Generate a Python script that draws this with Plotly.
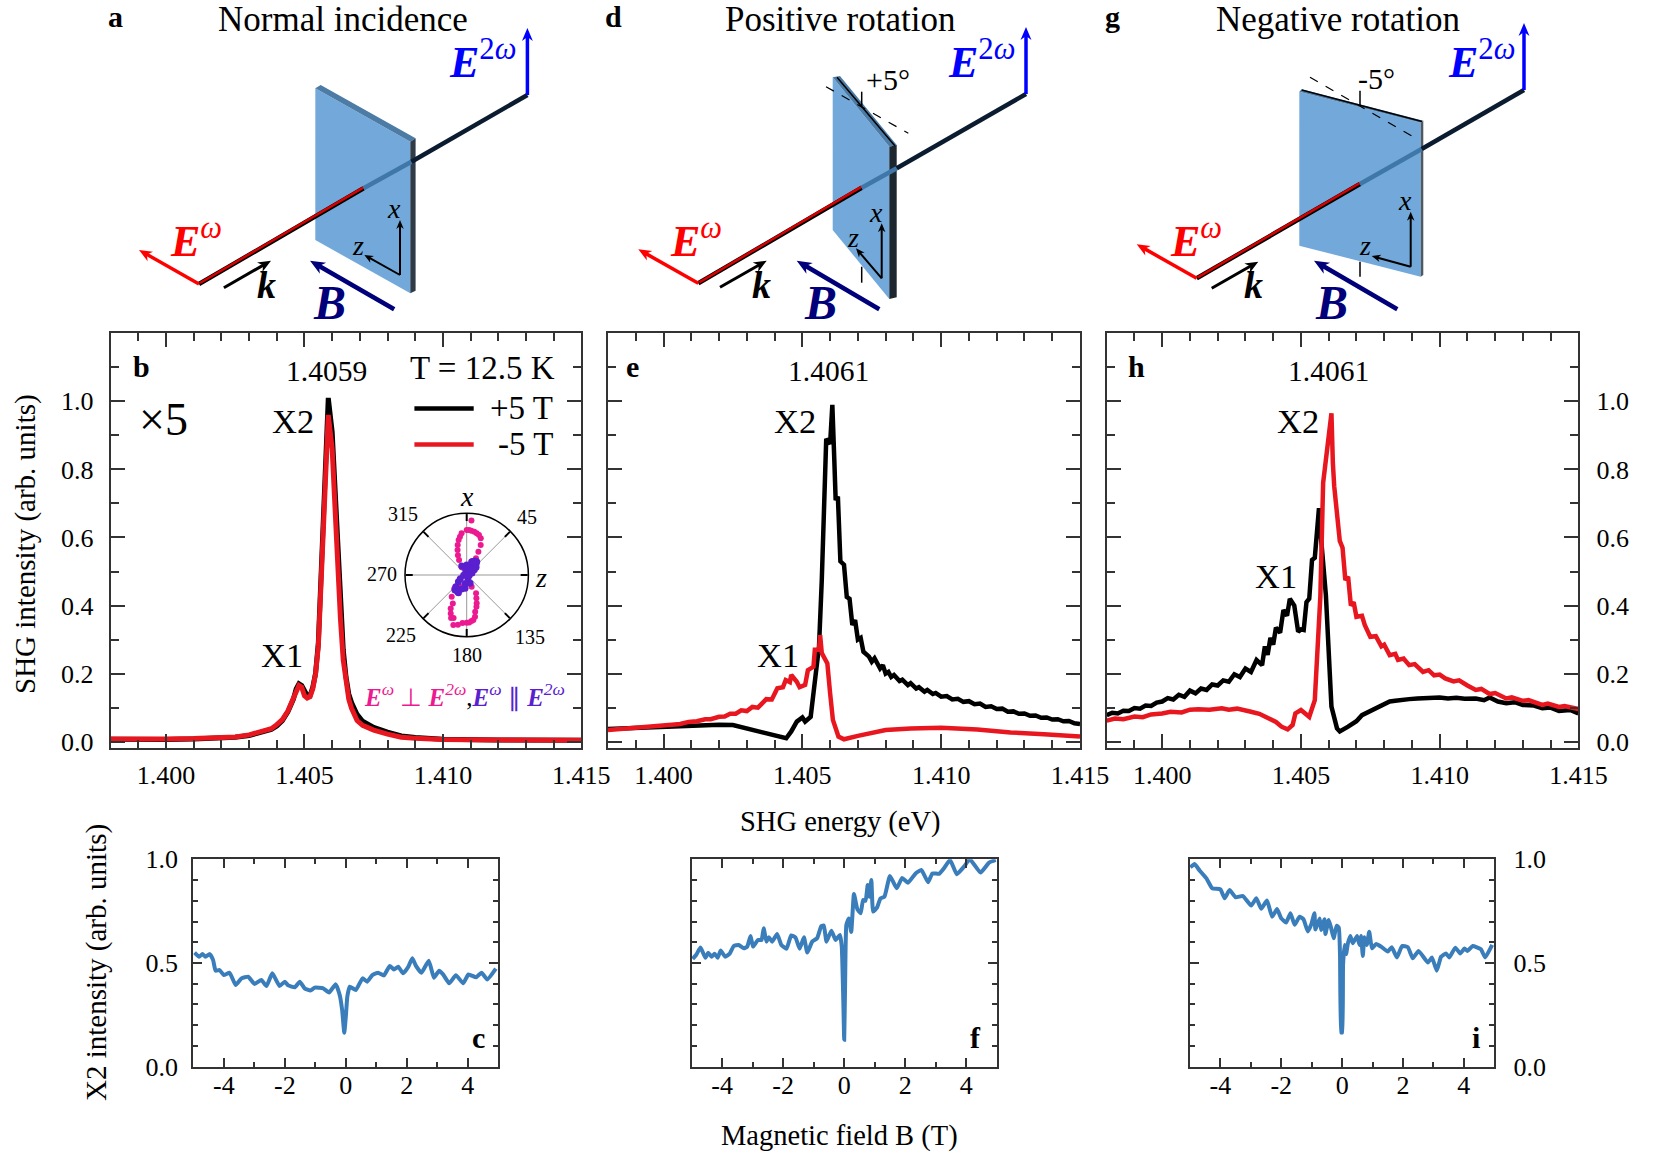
import math
import plotly.graph_objects as go

W = 1661
H = 1152
SERIF = "Liberation Serif"
FRAME = "#333333"
BLACK = "#000000"
RED = "#e8171f"
LINE_BLUE = "#3a7dbb"
PINK = "#ec1a90"
PURPLE = "#5a20cf"

# panel b
E_B = [1.398, 1.399, 1.400, 1.401, 1.402, 1.4025, 1.403, 1.4035, 1.4038, 1.404, 1.4042, 1.4044, 1.4046, 1.4047,
       1.4048, 1.4049, 1.405, 1.4051, 1.4052, 1.4053, 1.4054, 1.4055, 1.4056, 1.4057, 1.40578, 1.40586, 1.406,
       1.4061, 1.4062, 1.4063, 1.4064, 1.4065, 1.4066, 1.4067, 1.4069, 1.4071, 1.4075, 1.408, 1.4085, 1.409,
       1.41, 1.412, 1.415]
B_PLUS = [0.007, 0.006, 0.006, 0.008, 0.011, 0.013, 0.018, 0.029, 0.036, 0.046, 0.062, 0.088, 0.125, 0.155,
          0.17, 0.165, 0.148, 0.135, 0.135, 0.16, 0.2, 0.29, 0.49, 0.72, 0.88, 1.01, 0.91, 0.74, 0.55, 0.39,
          0.27, 0.19, 0.14, 0.115, 0.08, 0.06, 0.042, 0.028, 0.017, 0.012, 0.007, 0.005, 0.004]
B_MINUS = [0.008, 0.007, 0.008, 0.009, 0.012, 0.014, 0.02, 0.03, 0.038, 0.05, 0.065, 0.09, 0.125, 0.15,
           0.165, 0.16, 0.135, 0.128, 0.132, 0.155, 0.2, 0.28, 0.48, 0.72, 0.86, 0.96, 0.86, 0.68, 0.5, 0.36,
           0.24, 0.17, 0.125, 0.098, 0.062, 0.048, 0.034, 0.022, 0.013, 0.01, 0.006, 0.005, 0.004]

# panel e
E_E_PLUS = [1.398, 1.399, 1.4, 1.4007, 1.4013, 1.402, 1.4025, 1.4031, 1.4037, 1.4041, 1.40442, 1.4046, 1.4048,
            1.405, 1.4051, 1.4053, 1.4054, 1.4056, 1.4057, 1.4058, 1.40586, 1.406, 1.40608, 1.40615, 1.4062,
            1.40628, 1.40637, 1.4065, 1.4066, 1.4067, 1.4068, 1.4069, 1.407, 1.4071, 1.4072, 1.4074, 1.4075,
            1.4076, 1.4077, 1.4078, 1.4079, 1.408, 1.4081, 1.4082, 1.4083, 1.4085, 1.4086, 1.4088, 1.4089, 1.4091,
            1.4092, 1.4094, 1.4095, 1.4097, 1.4098, 1.41, 1.4102, 1.4104, 1.4106, 1.4108, 1.411, 1.4112, 1.4114,
            1.4116, 1.4118, 1.412, 1.4122, 1.4124, 1.4126, 1.4128, 1.413, 1.4132, 1.4134, 1.4136, 1.4138, 1.414,
            1.4142, 1.4144, 1.4146, 1.4148, 1.415]
E_PLUS = [0.037, 0.04, 0.044, 0.047, 0.05, 0.05, 0.049, 0.037, 0.024, 0.015, 0.01, 0.03, 0.059, 0.071, 0.059,
          0.073, 0.142, 0.28, 0.475, 0.77, 0.89, 0.875, 0.99, 0.83, 0.71, 0.72, 0.53, 0.52, 0.425, 0.42, 0.343,
          0.357, 0.3, 0.305, 0.264, 0.25, 0.235, 0.245, 0.23, 0.215, 0.225, 0.2, 0.205, 0.19, 0.196, 0.178, 0.182,
          0.166, 0.172, 0.156, 0.16, 0.147, 0.152, 0.14, 0.143, 0.132, 0.134, 0.124, 0.126, 0.117, 0.119, 0.11,
          0.112, 0.102, 0.104, 0.096, 0.097, 0.088, 0.089, 0.082, 0.083, 0.076, 0.077, 0.07, 0.071, 0.065, 0.066,
          0.06, 0.061, 0.054, 0.052]
E_E_MINUS = [1.398, 1.3985, 1.399, 1.3995, 1.4, 1.4003, 1.4006, 1.4009, 1.4012, 1.4015, 1.4017, 1.402, 1.4022, 1.4024,
             1.4026, 1.4028, 1.403, 1.4032, 1.4034, 1.4036, 1.4037, 1.4039, 1.404, 1.4041, 1.4043, 1.4044, 1.40455,
             1.4046, 1.4048, 1.4049, 1.4051, 1.4052, 1.4054, 1.40545, 1.4056, 1.40564, 1.4057, 1.4059, 1.406, 1.4061,
             1.4063, 1.4065, 1.407, 1.4074, 1.408, 1.4089, 1.41, 1.4113, 1.4125, 1.4137, 1.415]
E_MINUS = [0.034, 0.037, 0.04, 0.042, 0.046, 0.05, 0.052, 0.058, 0.06, 0.066, 0.066, 0.073, 0.074, 0.082, 0.082, 0.092,
           0.09, 0.102, 0.1, 0.115, 0.125, 0.124, 0.14, 0.157, 0.16, 0.181, 0.175, 0.196, 0.176, 0.16, 0.167, 0.21,
           0.22, 0.27, 0.27, 0.313, 0.26, 0.23, 0.142, 0.064, 0.015, 0.007, 0.017, 0.024, 0.034, 0.039, 0.041, 0.036,
           0.027, 0.022, 0.015]

# panel h
E_H_PLUS = [1.398, 1.3982, 1.3984, 1.3986, 1.3988, 1.399, 1.3992, 1.3994, 1.3996, 1.3998, 1.4, 1.4002, 1.4004, 1.4006,
            1.4008, 1.401, 1.4012, 1.4014, 1.4016, 1.4018, 1.402, 1.4022, 1.4024, 1.4026, 1.4028, 1.403, 1.4032, 1.4034,
            1.4036, 1.4037, 1.4038, 1.4039, 1.404, 1.4041, 1.40425, 1.40437, 1.4045, 1.4046, 1.40476, 1.4049, 1.405,
            1.4051, 1.4052, 1.4053, 1.4054, 1.4055, 1.40565, 1.4057, 1.4059, 1.406, 1.4061, 1.4063, 1.4064, 1.4067,
            1.407, 1.4072, 1.4075, 1.4077, 1.4079, 1.4082, 1.4084, 1.4087, 1.4089, 1.4092, 1.4095, 1.4098, 1.41, 1.4103,
            1.4106, 1.4109, 1.4113, 1.4116, 1.4118, 1.4121, 1.4124, 1.4127, 1.413, 1.4134, 1.4137, 1.414, 1.4143, 1.4147,
            1.415]
H_PLUS = [0.078, 0.085, 0.083, 0.091, 0.09, 0.099, 0.097, 0.106, 0.105, 0.115, 0.118, 0.128, 0.124, 0.138, 0.132, 0.15,
          0.142, 0.156, 0.152, 0.168, 0.165, 0.18, 0.176, 0.198, 0.19, 0.215, 0.205, 0.24, 0.225, 0.28, 0.255, 0.305,
          0.285, 0.335, 0.32, 0.387, 0.37, 0.42, 0.4, 0.323, 0.33, 0.328, 0.41, 0.42, 0.534, 0.54, 0.686, 0.622, 0.43,
          0.23, 0.103, 0.039, 0.03, 0.044, 0.06, 0.078, 0.09, 0.1, 0.108, 0.118, 0.12, 0.124, 0.125, 0.127, 0.128, 0.132,
          0.13, 0.127, 0.129, 0.126, 0.127, 0.122, 0.13, 0.118, 0.113, 0.116, 0.108, 0.106, 0.098, 0.1, 0.09, 0.093,
          0.083]
E_H_MINUS = [1.398, 1.3983, 1.3986, 1.399, 1.3993, 1.3996, 1.4, 1.4003, 1.4007, 1.401, 1.4013, 1.4017, 1.40215, 1.4024,
             1.4027, 1.403, 1.4032, 1.4035, 1.4038, 1.4041, 1.4043, 1.40452, 1.4047, 1.4048, 1.405, 1.4053, 1.4055,
             1.4056, 1.4057, 1.4058, 1.4059, 1.4061, 1.40615, 1.4062, 1.4064, 1.4065, 1.4066, 1.4067, 1.4068, 1.4069,
             1.407, 1.4072, 1.4073, 1.4074, 1.4075, 1.4077, 1.4079, 1.408, 1.4082, 1.4084, 1.4085, 1.4087, 1.4089, 1.4091,
             1.4094, 1.4096, 1.4098, 1.41, 1.4102, 1.4105, 1.4107, 1.411, 1.4113, 1.4115, 1.4118, 1.412, 1.4124, 1.4126,
             1.413, 1.4132, 1.4137, 1.4139, 1.4143, 1.4145, 1.415]
H_MINUS = [0.062, 0.068, 0.066, 0.074, 0.072, 0.08, 0.083, 0.088, 0.086, 0.094, 0.095, 0.094, 0.098, 0.094, 0.097, 0.09,
           0.088, 0.082, 0.069, 0.058, 0.044, 0.036, 0.049, 0.083, 0.093, 0.073, 0.122, 0.28, 0.426, 0.76, 0.83, 0.965,
           0.82, 0.75, 0.59, 0.57, 0.475, 0.485, 0.4, 0.41, 0.367, 0.37, 0.343, 0.325, 0.308, 0.31, 0.28, 0.285, 0.254,
           0.258, 0.24, 0.244, 0.225, 0.228, 0.205, 0.21, 0.195, 0.197, 0.186, 0.177, 0.18, 0.165, 0.152, 0.155, 0.14,
           0.143, 0.127, 0.13, 0.12, 0.122, 0.108, 0.112, 0.102, 0.105, 0.096]

# panels c, f, i
FIELD_C = [-4.96, -4.81, -4.7, -4.6, -4.46, -4.35, -4.27, -4.14, -4.0, -3.81, -3.61, -3.42, -3.2, -2.99, -2.77, -2.6,
           -2.41, -2.17, -2.0, -1.89, -1.67, -1.51, -1.35, -1.16, -1.02, -0.74, -0.55, -0.33, -0.2, -0.12, -0.05, 0.0,
           0.05, 0.13, 0.33, 0.55, 0.7, 0.87, 1.06, 1.25, 1.44, 1.58, 1.72, 1.88, 2.05, 2.18, 2.3, 2.48, 2.72, 2.89,
           3.06, 3.19, 3.39, 3.61, 3.85, 4.02, 4.27, 4.45, 4.64, 4.92]
X2_C = [0.55, 0.53, 0.543, 0.53, 0.543, 0.514, 0.463, 0.466, 0.442, 0.453, 0.394, 0.426, 0.434, 0.399, 0.418, 0.389,
        0.45, 0.389, 0.41, 0.392, 0.383, 0.41, 0.378, 0.367, 0.381, 0.378, 0.358, 0.397, 0.346, 0.273, 0.164, 0.24,
        0.338, 0.386, 0.37, 0.426, 0.41, 0.442, 0.453, 0.44, 0.486, 0.469, 0.482, 0.45, 0.482, 0.523, 0.486, 0.453,
        0.511, 0.429, 0.463, 0.445, 0.402, 0.441, 0.402, 0.445, 0.431, 0.453, 0.421, 0.473]
FIELD_F = [-4.97, -4.85, -4.71, -4.55, -4.46, -4.35, -4.25, -4.15, -4.05, -3.9, -3.75, -3.62, -3.46, -3.29, -3.18,
           -3.07, -2.99, -2.83, -2.71, -2.64, -2.55, -2.47, -2.36, -2.2, -2.06, -1.89, -1.74, -1.6, -1.46, -1.32,
           -1.21, -1.05, -0.89, -0.75, -0.67, -0.58, -0.42, -0.28, -0.14, -0.08, -0.03, 0.0, 0.03, 0.07, 0.15, 0.23,
           0.32, 0.43, 0.54, 0.62, 0.7, 0.77, 0.82, 0.89, 0.95, 1.08, 1.19, 1.32, 1.5, 1.72, 1.9, 2.09, 2.34, 2.53,
           2.75, 2.89, 3.11, 3.27, 3.47, 3.69, 3.93, 4.12, 4.47, 4.75, 4.97]
X2_F = [0.52, 0.54, 0.575, 0.525, 0.55, 0.53, 0.545, 0.525, 0.56, 0.53, 0.546, 0.582, 0.587, 0.571, 0.579, 0.63, 0.579,
        0.611, 0.611, 0.667, 0.603, 0.624, 0.603, 0.64, 0.587, 0.569, 0.633, 0.624, 0.569, 0.624, 0.55, 0.603, 0.619,
        0.678, 0.681, 0.603, 0.656, 0.611, 0.635, 0.579, 0.32, 0.13, 0.4, 0.683, 0.715, 0.65, 0.833, 0.76, 0.74, 0.804,
        0.8, 0.876, 0.82, 0.9, 0.748, 0.768, 0.812, 0.82, 0.92, 0.86, 0.91, 0.887, 0.932, 0.949, 0.889, 0.932, 0.93,
        0.957, 0.997, 0.928, 0.965, 1.0, 0.936, 0.984, 0.997]
FIELD_I = [-4.99, -4.85, -4.68, -4.46, -4.27, -4.0, -3.86, -3.7, -3.5, -3.26, -2.99, -2.82, -2.66, -2.47, -2.3, -2.14,
           -2.0, -1.84, -1.7, -1.56, -1.4, -1.27, -1.13, -1.02, -0.91, -0.88, -0.74, -0.69, -0.58, -0.55, -0.44, -0.36,
           -0.28, -0.18, -0.11, -0.07, -0.03, 0.0, 0.03, 0.08, 0.13, 0.19, 0.27, 0.35, 0.49, 0.57, 0.62, 0.68, 0.73,
           0.81, 0.89, 0.98, 1.12, 1.28, 1.5, 1.63, 1.8, 1.97, 2.16, 2.32, 2.51, 2.82, 2.95, 3.11, 3.25, 3.41, 3.52,
           3.72, 3.88, 4.02, 4.12, 4.29, 4.56, 4.7, 4.93]
X2_I = [0.961, 0.977, 0.945, 0.908, 0.86, 0.855, 0.812, 0.852, 0.817, 0.823, 0.777, 0.812, 0.762, 0.801, 0.723, 0.76,
        0.715, 0.695, 0.74, 0.684, 0.723, 0.711, 0.652, 0.684, 0.74, 0.662, 0.715, 0.659, 0.711, 0.64, 0.707, 0.667,
        0.619, 0.68, 0.67, 0.535, 0.165, 0.165, 0.49, 0.587, 0.543, 0.595, 0.63, 0.595, 0.63, 0.587, 0.63, 0.534, 0.624,
        0.587, 0.651, 0.571, 0.592, 0.579, 0.555, 0.576, 0.527, 0.582, 0.576, 0.523, 0.558, 0.502, 0.527, 0.463, 0.53,
        0.546, 0.527, 0.574, 0.546, 0.57, 0.558, 0.582, 0.566, 0.527, 0.587]

# polar inset of panel b
POL_PINK_THETA = [5, -33, -27, -20, -13, -7, 0, 6, 13.5, 21, 25, 26.6, 29, -16.7, -24, -10, 3, 10, 17,
                  157, 153, 157.5, 160.6, 163, 167, 168.7, 171.6, 174, 177, 180, 185, 190, 195, 197, 200, 202.6, 205.6,
                  206, 210, 214.7, 222]
POL_PINK_R = [0.885, 0.148, 0.273, 0.433, 0.583, 0.68, 0.73, 0.723, 0.695, 0.636, 0.537, 0.423, 0.31, 0.508, 0.35, 0.63,
              0.73, 0.71, 0.68, 0.206, 0.334, 0.41, 0.487, 0.54, 0.61, 0.689, 0.738, 0.75, 0.77, 0.773, 0.78, 0.82, 0.838,
              0.728, 0.74, 0.674, 0.6, 0.513, 0.218, 0.427, 0.3]
POL_PURPLE_THETA = [0, 10, 18, 20.6, 25, 31, 35, 37, 40, 46, 50.6, 55, 65, 70, 100, 158, 160, 187, 190, 200, 205, 208, 214, 218,
                    223, 231, 240, 265, 320, 331, 350, 12, 28, 34]
POL_PURPLE_R = [0.162, 0.07, 0.16, 0.23, 0.24, 0.264, 0.26, 0.27, 0.235, 0.2, 0.196, 0.15, 0.09, 0.09, 0.04, 0.146, 0.05,
                0.218, 0.14, 0.24, 0.317, 0.307, 0.3, 0.308, 0.26, 0.173, 0.12, 0.05, 0.03, 0.167, 0.1, 0.11, 0.25, 0.24]
POL_LABELS = ["45", "135", "180", "225", "270", "315"]
POL_TICKS = [0, 45, 90, 135, 180, 225, 270, 315]

ENERGY_TICKS = [1.400, 1.405, 1.410, 1.415]
ENERGY_LABELS = ["1.400", "1.405", "1.410", "1.415"]
SHG_TICKS = [0.0, 0.2, 0.4, 0.6, 0.8, 1.0]
SHG_LABELS = ["0.0", "0.2", "0.4", "0.6", "0.8", "1.0"]
FIELD_TICKS = [-4, -2, 0, 2, 4]
FIELD_LABELS = ["-4", "-2", "0", "2", "4"]
X2_TICKS = [0.0, 0.5, 1.0]
X2_LABELS = ["0.0", "0.5", "1.0"]


def px(x):
    return x / W


def py(y):
    return 1 - y / H


fig = go.Figure()
shapes = []
notes = []


def addText(x, y, text, size, color="black", xanchor="center", angle=0):
    notes.append(dict(x=px(x), y=py(y), xref="paper", yref="paper", text=text, showarrow=False, xanchor=xanchor,
                      yanchor="middle", textangle=angle, font=dict(family=SERIF, size=size, color=color)))


def addLine(x0, y0, x1, y1, color, width, dash=None):
    shapes.append(dict(type="line", xref="paper", yref="paper", x0=px(x0), y0=py(y0), x1=px(x1), y1=py(y1),
                       line=dict(color=color, width=width, dash=dash or "solid")))


def addPoly(points, color):
    path = "M " + " L ".join(f"{px(x)},{py(y)}" for x, y in points) + " Z"
    shapes.append(dict(type="path", xref="paper", yref="paper", path=path, fillcolor=color, line=dict(width=0)))


def addArrow(x0, y0, x1, y1, color, width, head=13):
    # shaft plus a small notched head
    d = math.hypot(x1 - x0, y1 - y0)
    ux, uy = (x1 - x0) / d, (y1 - y0) / d
    addLine(x0, y0, x1 - ux * head * 0.6, y1 - uy * head * 0.6, color, width)
    hw = head * 0.42
    addPoly([(x1, y1),
             (x1 - ux * head - uy * hw, y1 - uy * head + ux * hw),
             (x1 - ux * head * 0.7, y1 - uy * head * 0.7),
             (x1 - ux * head + uy * hw, y1 - uy * head - ux * hw)], color)


def addSchematic(s):
    addPoly(s["front"], "#72a9da")
    addPoly(s["top"], s["top_color"])
    addPoly(s["edge"], s["edge_color"])
    addLine(*s["beam_start"], *s["red_end"], "#000000", 4.5)
    addLine(s["beam_start"][0] + 1, s["beam_start"][1] - 1, s["red_end"][0], s["red_end"][1] - 1, "#d80000", 2.5)
    addLine(*s["red_end"], *s["exit"], "#3f77a9", 4.5)
    addLine(*s["exit"], *s["beam_end"], "#0c1c30", 4.5)
    addArrow(*s["beam_end"], s["beam_end"][0], s["beam_end"][1] - 67, "#0000ff", 3.5)
    addArrow(*s["beam_start"], s["beam_start"][0] - 60, s["beam_start"][1] - 34, "#ff0000", 3.5)
    addArrow(*s["k"], "#000000", 3)
    addArrow(*s["b"], "#00007a", 4.5, 15)
    addArrow(*s["corner"], s["corner"][0], s["corner"][1] - 55, "#000000", 2, 9)
    addArrow(*s["corner"], *s["ztip"], "#000000", 2, 9)
    for seg in s.get("extra", []):
        addLine(*seg, "#000000", 1.5)
    if "dash" in s:
        addLine(*s["dash"], "#000000", 1.2, "dash")
    addText(s["title"][0], s["title"][1], s["title"][2], 35)
    addText(s["letter"][0], s["letter"][1], "<b>" + s["letter"][2] + "</b>", 30)
    addText(*s["xl"], "<i>x</i>", 28)
    addText(*s["zl"], "<i>z</i>", 28)
    addText(*s["ew"], "<b><i>E</i></b><sup><i>ω</i></sup>", 44, "#ff0000")
    addText(*s["e2w"], "<b><i>E</i></b><sup>2<i>ω</i></sup>", 44, "#0000ff")
    addText(*s["kl"], "<b><i>k</i></b>", 38)
    addText(*s["bl"], "<b><i>B</i></b>", 48, "#00007a")
    if "angle" in s:
        addText(s["angle"][0], s["angle"][1], s["angle"][2], 30)


PANEL_A = dict(front=[(315.3, 88.3), (410.3, 141.7), (410.3, 293.3), (315.3, 240)],
               top=[(315.3, 88.3), (320.7, 85), (415.6, 138.3), (410.3, 141.7)], top_color="#4c7ba6",
               edge=[(410.3, 141.7), (415.6, 138.3), (415.6, 290.7), (410.3, 293.3)], edge_color="#2f3c48",
               beam_start=(199, 284), red_end=(363.6, 188.3), exit=(411.4, 161.7), beam_end=(527.4, 95),
               k=(223.9, 287.7, 271, 260.7), b=(394.2, 309.3, 310, 260.7), corner=(400, 275), ztip=(364.3, 255),
               title=(342.5, 19, "Normal incidence"), letter=(115, 17, "a"), xl=(394, 208), zl=(358, 246),
               ew=(196, 238), e2w=(483, 59), kl=(266, 285), bl=(329, 302))
PANEL_D = dict(front=[(832.7, 77.3), (889.3, 146.7), (889.3, 299), (832.7, 230)],
               top=[(832.7, 77.3), (840, 76), (896.7, 145), (889.3, 146.7)], top_color="#4c7ba6",
               edge=[(889.3, 146.7), (896.7, 145), (896.7, 297.3), (889.3, 299)], edge_color="#1c2730",
               beam_start=(698.3, 283.3), red_end=(861.7, 187.7), exit=(896.7, 168.3), beam_end=(1026, 94),
               k=(720, 287.3, 766.7, 260.7), b=(879.3, 309.3, 796.7, 260.7), corner=(881.7, 278.3), ztip=(856, 248.3),
               title=(840, 19, "Positive rotation"), letter=(613, 17, "d"), xl=(876, 212.7), zl=(852.7, 237.3),
               ew=(696, 238), e2w=(981.7, 59), kl=(761.7, 285), bl=(820, 302), angle=(888, 80, "+5°"),
               dash=(826, 86.7, 908.3, 133.3),
               extra=[(837, 77.3, 895, 146), (861.7, 91.7, 861.7, 106.7), (861.7, 266.7, 861.7, 282.7)])
PANEL_G = dict(front=[(1299.3, 91.7), (1420.7, 122.7), (1420.7, 276.7), (1299.3, 245.7)],
               top=[(1299.3, 91.7), (1301.7, 89.3), (1423.3, 120.7), (1420.7, 122.7)], top_color="#4c7ba6",
               edge=[(1420.7, 122.7), (1423.3, 120.7), (1423.3, 275), (1420.7, 276.7)], edge_color="#4d5a66",
               beam_start=(1196.7, 278.3), red_end=(1360, 184), exit=(1421.7, 149), beam_end=(1524, 90),
               k=(1211.7, 288.3, 1258.3, 261.7), b=(1397.3, 309.3, 1314, 260.7), corner=(1410.7, 266.7),
               ztip=(1371.7, 256), title=(1338, 19, "Negative rotation"), letter=(1112, 17, "g"), xl=(1405, 200),
               zl=(1365, 246), ew=(1196, 238), e2w=(1481.7, 59), kl=(1253, 285), bl=(1331.7, 302),
               angle=(1376.7, 78, "-5°"), dash=(1310, 77.3, 1416, 138.3),
               extra=[(1301.7, 90, 1422, 121.5), (1360, 90.7, 1360, 106), (1360, 261.7, 1360, 276.7)])

for panel in [PANEL_A, PANEL_D, PANEL_G]:
    addSchematic(panel)

TOP_Y = (333.3, 748.3)
BOT_Y = (859.3, 1066.7)
SPECTRA = [("", 110.7, 581.3, SHG_LABELS, "left", [(E_B, B_PLUS, BLACK), (E_B, B_MINUS, RED)], 5),
           ("2", 608, 1080, None, "left", [(E_E_PLUS, E_PLUS, BLACK), (E_E_MINUS, E_MINUS, RED)], 4.5),
           ("3", 1106.7, 1578.4, SHG_LABELS, "right", [(E_H_PLUS, H_PLUS, BLACK), (E_H_MINUS, H_MINUS, RED)], 4.5)]
FIELD_PANELS = [("4", 193.3, 498.3, X2_LABELS, "left", FIELD_C, X2_C),
                ("5", 691.7, 996.7, None, "left", FIELD_F, X2_F),
                ("6", 1190, 1494.3, X2_LABELS, "right", FIELD_I, X2_I)]

layout = dict(width=W, height=H, margin=dict(l=0, r=0, t=0, b=0), paper_bgcolor="white", plot_bgcolor="white",
              showlegend=False, font=dict(family=SERIF, color="black"))


def axisBase(domain, tickvals, ticktext, rng, major, minorLen, dtick):
    axis = dict(domain=domain, range=rng, tickmode="array", tickvals=tickvals, automargin=False,
                ticks="inside", ticklen=major, tickwidth=1.5, tickcolor=FRAME, showline=True, linecolor=FRAME, linewidth=2,
                mirror="allticks", showgrid=False, zeroline=False, tickfont=dict(family=SERIF, size=26, color="black"),
                minor=dict(ticks="inside", ticklen=minorLen, tickwidth=1.5, tickcolor=FRAME, dtick=dtick, showgrid=False))
    if ticktext:
        axis["ticktext"] = ticktext
    else:
        axis["showticklabels"] = False
    return axis


for suffix, left, right, ylabels, side, curves, width in SPECTRA:
    xa = axisBase([px(left), px(right)], ENERGY_TICKS, ENERGY_LABELS, [1.398, 1.415], 14, 8, 0.001)
    xa["ticklabelstandoff"] = 2
    ya = axisBase([py(TOP_Y[1]), py(TOP_Y[0])], SHG_TICKS, ylabels, [-0.0195, 1.2], 14, 8, 0.2)
    ya["minor"]["tick0"] = 0.1
    ya["side"] = side
    ya["ticklabelstandoff"] = 10 if side == "left" else 11
    ya["anchor"] = "x" + suffix
    xa["anchor"] = "y" + suffix
    layout["xaxis" + suffix] = xa
    layout["yaxis" + suffix] = ya
    for energy, values, color in curves:
        fig.add_trace(go.Scatter(x=energy, y=values, mode="lines", line=dict(color=color, width=width), xaxis="x" + suffix,
                                 yaxis="y" + suffix, showlegend=False))

for suffix, left, right, ylabels, side, field, values in FIELD_PANELS:
    xa = axisBase([px(left), px(right)], FIELD_TICKS, FIELD_LABELS, [-5, 5], 9, 5, 1)
    xa["ticklabelstandoff"] = -6
    ya = axisBase([py(BOT_Y[1]), py(BOT_Y[0])], X2_TICKS, ylabels, [0, 1], 9, 5, 0.1)
    ya["side"] = side
    ya["ticklabelstandoff"] = 8 if side == "left" else 12
    ya["anchor"] = "x" + suffix
    xa["anchor"] = "y" + suffix
    layout["xaxis" + suffix] = xa
    layout["yaxis" + suffix] = ya
    fig.add_trace(go.Scatter(x=field, y=values, mode="lines", line=dict(color=LINE_BLUE, width=4, shape="spline", smoothing=0.4),
                             xaxis="x" + suffix, yaxis="y" + suffix, showlegend=False))

fig.add_trace(go.Scatterpolar(r=POL_PINK_R, theta=POL_PINK_THETA, mode="markers", marker=dict(color=PINK, size=6),
                              subplot="polar", showlegend=False))
fig.add_trace(go.Scatterpolar(r=POL_PURPLE_R, theta=POL_PURPLE_THETA, mode="markers", marker=dict(color=PURPLE, size=7),
                              subplot="polar", showlegend=False))
layout["polar"] = dict(domain=dict(x=[px(466.7 - 61.7), px(466.7 + 61.7)], y=[py(575 + 61.7), py(575 - 61.7)]),
                       bgcolor="white",
                       radialaxis=dict(range=[0, 1], visible=False),
                       angularaxis=dict(rotation=90, direction="clockwise", tickmode="array", tickvals=POL_TICKS,
                                        showticklabels=False, ticks="inside", ticklen=7, tickcolor="black", tickwidth=1.5,
                                        linecolor="black", linewidth=1.5, gridcolor="#999999", gridwidth=1))

for label, x, y in zip(POL_LABELS, [526.7, 530, 466.7, 400.7, 382, 403], [516.7, 637, 655, 635, 574, 514]):
    addText(x, y, label, 20)
addText(467, 496, "<i>x</i>", 28)
addText(540.7, 577, "<i>z</i>", 28)

# panel text
addText(141, 367, "<b>b</b>", 30)
addText(632, 367, "<b>e</b>", 30)
addText(1136, 367, "<b>h</b>", 30)
addText(326, 371, "1.4059", 29.5)
addText(828, 371, "1.4061", 29.5)
addText(1328, 371, "1.4061", 29.5)
addText(293, 421, "X2", 34.5)
addText(795, 421, "X2", 34.5)
addText(1298, 421, "X2", 34.5)
addText(282, 655, "X1", 34.5)
addText(778, 655, "X1", 34.5)
addText(1276, 576, "X1", 34.5)
addText(163, 420, "×5", 46)
addText(482, 368, "T = 12.5 K", 33)
addText(555, 408, "+5 T", 33, xanchor="right")
addText(555, 444, "-5 T", 33, xanchor="right")
addLine(414.4, 408.5, 473.7, 408.5, BLACK, 4.5)
addLine(414.4, 444.5, 473.7, 444.5, RED, 4.5)
addText(465, 695, f'<span style="color:{PINK}"><b><i>E</i></b><sup><i>ω</i></sup> ⊥ <b><i>E</i></b><sup><i>2ω</i></sup></span>,'
                  f'<span style="color:{PURPLE}"><b><i>E</i></b><sup><i>ω</i></sup> ∥ <b><i>E</i></b><sup><i>2ω</i></sup></span>', 25)
addText(478, 1037, "<b>c</b>", 30)
addText(975, 1037, "<b>f</b>", 30)
addText(1476, 1037, "<b>i</b>", 30)
addText(840, 822, "SHG energy (eV)", 28.5)
addText(839, 1136, "Magnetic field B (T)", 28.5)
addText(25, 544, "SHG intensity (arb. units)", 29, angle=-90)
addText(96, 963, "X2 intensity (arb. units)", 29, angle=-90)

layout["shapes"] = shapes
layout["annotations"] = notes
fig.update_layout(**layout)

fig.write_html("out.html", config={"displayModeBar": False},
               post_script="document.body.style.margin='0';document.documentElement.style.overflow='hidden';")
